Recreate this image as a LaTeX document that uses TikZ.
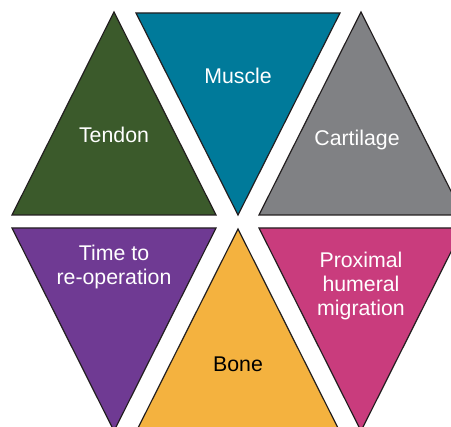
\documentclass[tikz,border=0pt]{standalone}
\usepackage{fontspec}
\setmainfont{Liberation Sans}
\definecolor{cGreen}{HTML}{3B5A2B}
\definecolor{cTeal}{HTML}{007A9A}
\definecolor{cGray}{HTML}{808184}
\definecolor{cPurple}{HTML}{6F3A93}
\definecolor{cYellow}{HTML}{F4B23F}
\definecolor{cMagenta}{HTML}{C93C7D}
\definecolor{cEdge}{HTML}{231F20}
\begin{document}
\begin{tikzpicture}[x=1pt,y=-1pt,
  tri/.style={draw=cEdge,line width=1.2pt,line join=miter},
  lbl/.style={font=\fontsize{21.3}{24}\selectfont,align=center,text=white,inner sep=0pt}]
\useasboundingbox (0,0) rectangle (451,427);
\clip (0,0) rectangle (451,427);
% top row
\draw[tri,fill=cGreen] (114,12) -- (216,215) -- (12,215) -- cycle;
\draw[tri,fill=cTeal] (136,13) -- (340,13) -- (238,215) -- cycle;
\draw[tri,fill=cGray] (361,12) -- (463,215) -- (259,215) -- cycle;
% bottom row
\draw[tri,fill=cPurple] (12,228) -- (216,228) -- (114,431) -- cycle;
\draw[tri,fill=cYellow] (238,229) -- (340,432) -- (136,432) -- cycle;
\draw[tri,fill=cMagenta] (259,228) -- (463,228) -- (361,431) -- cycle;
% labels
\node[lbl] (tendon) at (114,135) {Tendon};
\node[lbl] (muscle) at (238,76) {Muscle};
\node[lbl] (cartilage) at (357,140) {Cartilage};
\node[lbl] (time) at (114,267) {Time to\\re-operation};
\node[lbl,text=black] (bone) at (238,364) {Bone};
\node[lbl] (phm) at (361,286) {Proximal\\humeral\\migration};
\end{tikzpicture}
\end{document}
